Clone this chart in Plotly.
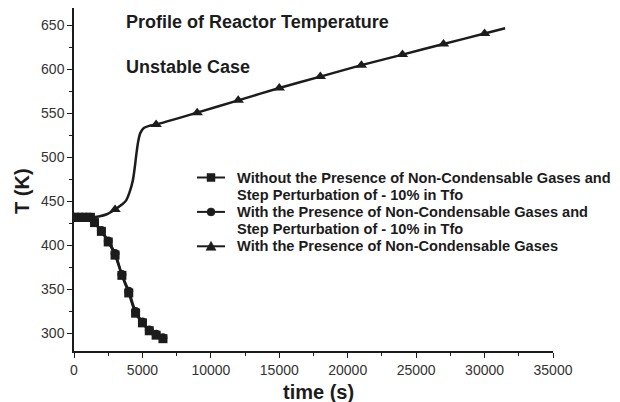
import plotly.graph_objects as go

# ---- data ----
# Series 1: without non-condensable gases, step perturbation -10% in Tfo (squares)
t_sq = [0, 300, 600, 900, 1200, 1500, 2000, 2500, 3000, 3500, 4000, 4500, 5000, 5500, 6000, 6500]
T_sq = [432, 432, 432, 432, 432, 426, 416, 404, 389, 366, 346, 323, 312, 303, 298, 294]

# Series 2: with non-condensable gases, step perturbation -10% in Tfo (circles)
t_ci = [0, 300, 600, 900, 1200, 1500, 2000, 2500, 3000, 3500, 4000, 4500, 5000, 5500, 6000, 6500]
T_ci = [432, 432, 432, 432, 432, 426, 417, 405, 391, 367, 348, 325, 313, 304, 299, 295]

# Series 3: with non-condensable gases, unstable (triangles) - curve
t_un = [0, 1200, 1800, 2400, 3000, 3500, 3800, 4050, 4300, 4450, 4550, 4700, 4850, 5100, 5500, 6000,
        9000, 12000, 15000, 18000, 21000, 24000, 27000, 30000, 31500]
T_un = [432, 432, 433, 435.5, 441, 446.5, 451, 460, 474, 490, 503, 519, 528, 533.5, 536, 537.5,
        551, 565, 579, 592, 605, 617, 629, 641, 647]
# triangle marker positions
t_un_mk = [3000, 6000, 9000, 12000, 15000, 18000, 21000, 24000, 27000, 30000]
T_un_mk = [441, 537.5, 551, 565, 579, 592, 605, 617, 629, 641]

# legend: one list of text lines per series
legend_lines = [
    ["Without the Presence of Non-Condensable Gases and", "Step Perturbation of - 10% in Tfo"],
    ["With the Presence of Non-Condensable Gases and", "Step Perturbation of - 10% in Tfo"],
    ["With the Presence of Non-Condensable Gases"],
]
legend_symbols = ["square", "circle", "triangle"]
title1 = "Profile of Reactor Temperature"
title2 = "Unstable Case"
x_title = "time (s)"
y_title = "T (K)"

INK = "#1c1c1c"
FONT = "Liberation Sans, Arial, sans-serif"

# plot-area geometry (pixels)
W, H = 620, 402
L, R, T, B = 74, 67, 8, 51
PW, PH = W - L - R, H - T - B


def px(xp):
    return (xp - L) / PW


def py(yp):
    return (H - B - yp) / PH


fig = go.Figure()

fig.add_trace(go.Scatter(x=t_ci, y=T_ci, mode="lines+markers", name=" ".join(legend_lines[1]),
                         line=dict(color=INK, width=2.5, shape="spline"),
                         marker=dict(symbol="circle", size=9, color=INK)))
fig.add_trace(go.Scatter(x=t_sq, y=T_sq, mode="lines+markers", name=" ".join(legend_lines[0]),
                         line=dict(color=INK, width=2.5, shape="spline"),
                         marker=dict(symbol="square", size=9, color=INK)))
fig.add_trace(go.Scatter(x=t_un, y=T_un, mode="lines", name=" ".join(legend_lines[2]),
                         line=dict(color=INK, width=2.5, shape="spline", smoothing=0.8)))
fig.add_trace(go.Scatter(x=t_un_mk, y=T_un_mk, mode="markers", name=" ".join(legend_lines[2]),
                         marker=dict(symbol="triangle-up", size=10, color=INK)))

axis_common = dict(showline=True, linecolor=INK, linewidth=1.5, showgrid=False, zeroline=False,
                   ticks="outside", ticklen=5, tickwidth=1.2, tickcolor=INK, tickformat="d",
                   tickfont=dict(family=FONT, size=14, color="#333333"))

fig.update_xaxes(range=[0, 35000], dtick=5000, tick0=0,
                 minor=dict(dtick=2500, ticks="outside", ticklen=3, tickcolor=INK, tickwidth=1.2),
                 **axis_common)
fig.update_yaxes(range=[280, 670], dtick=50, tick0=0,
                 minor=dict(dtick=25, ticks="outside", ticklen=3, tickcolor=INK, tickwidth=1.2),
                 **axis_common)

# axis titles
fig.add_annotation(text="<b>" + x_title + "</b>", xref="paper", yref="paper", x=px(318), y=py(392),
                   xanchor="center", yanchor="middle", showarrow=False,
                   font=dict(family=FONT, size=20, color=INK))
fig.add_annotation(text="<b>" + y_title + "</b>", xref="paper", yref="paper", x=px(22), y=py(191),
                   xanchor="center", yanchor="middle", showarrow=False, textangle=-90,
                   font=dict(family=FONT, size=20, color=INK))

# chart titles
fig.add_annotation(text="<b>" + title1 + "</b>", xref="paper", yref="paper", x=px(124), y=py(22),
                   xanchor="left", yanchor="middle", showarrow=False,
                   font=dict(family=FONT, size=18, color=INK))
fig.add_annotation(text="<b>" + title2 + "</b>", xref="paper", yref="paper", x=px(124), y=py(66.5),
                   xanchor="left", yanchor="middle", showarrow=False,
                   font=dict(family=FONT, size=18, color=INK))

# manual legend (compact line spacing as in the reference)
LX_TEXT = 235
LX0, LX1 = 197, 225
LMX = (LX0 + LX1) / 2
row_y = 177.5
ROW = 17.2
for lines, sym in zip(legend_lines, legend_symbols):
    yk = py(row_y)
    fig.add_shape(type="line", xref="paper", yref="paper", x0=px(LX0), x1=px(LX1), y0=yk, y1=yk,
                  line=dict(color=INK, width=2))
    common = dict(xref="paper", yref="paper", xsizemode="pixel", ysizemode="pixel",
                  xanchor=px(LMX), yanchor=yk, fillcolor=INK, line=dict(color=INK, width=0.5))
    if sym == "square":
        fig.add_shape(type="rect", x0=-4, x1=4, y0=-4, y1=4, **common)
    elif sym == "circle":
        fig.add_shape(type="circle", x0=-4, x1=4, y0=-4, y1=4, **common)
    else:
        fig.add_shape(type="path", path="M -5,-4 L 5,-4 L 0,5 Z", **common)
    for ln in lines:
        fig.add_annotation(text="<b>" + ln + "</b>", xref="paper", yref="paper",
                           x=px(LX_TEXT), y=py(row_y), xanchor="left", yanchor="middle",
                           showarrow=False, font=dict(family=FONT, size=14.6, color=INK))
        row_y += ROW

fig.update_layout(
    width=W, height=H,
    margin=dict(l=L, r=R, t=T, b=B),
    paper_bgcolor="white", plot_bgcolor="white",
    font=dict(family=FONT, color=INK),
    showlegend=False,
)

fig.write_html("out.html")
